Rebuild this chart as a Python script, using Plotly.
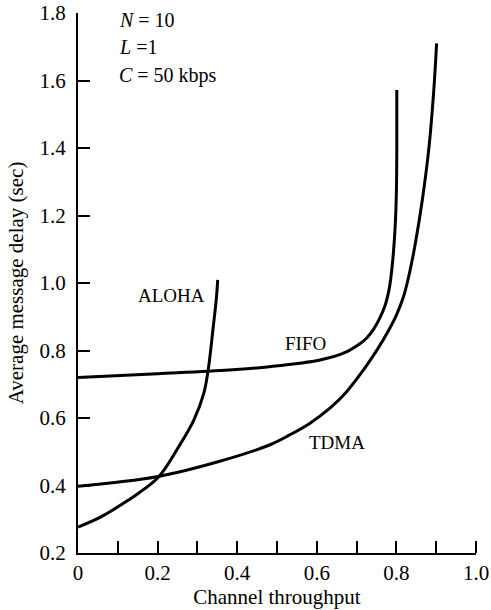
import plotly.graph_objects as go

# Data
aloha_x = [0, 0.059, 0.127, 0.152, 0.203, 0.253, 0.291, 0.316, 0.327, 0.339, 0.348, 0.351]
aloha_y = [0.277, 0.308, 0.357, 0.377, 0.426, 0.515, 0.594, 0.673, 0.742, 0.861, 0.959, 1.009]

fifo_x = [0, 0.2, 0.38, 0.481, 0.608, 0.667, 0.709, 0.726, 0.742, 0.757, 0.772, 0.783, 0.791, 0.797, 0.800, 0.801, 0.801]
fifo_y = [0.720, 0.731, 0.742, 0.752, 0.772, 0.792, 0.821, 0.838, 0.862, 0.893, 0.935, 0.990, 1.070, 1.170, 1.27, 1.40, 1.572]

tdma_x = [0, 0.198, 0.354, 0.481, 0.532, 0.582, 0.633, 0.675, 0.717, 0.751, 0.781, 0.800, 0.818, 0.833, 0.848, 0.865, 0.882, 0.894, 0.901]
tdma_y = [0.398, 0.426, 0.471, 0.520, 0.550, 0.584, 0.629, 0.678, 0.742, 0.801, 0.861, 0.905, 0.960, 1.030, 1.120, 1.245, 1.404, 1.572, 1.710]

x_tick_vals = [0, 0.2, 0.4, 0.6, 0.8, 1.0]
x_tick_text = ["0", "0.2", "0.4", "0.6", "0.8", "1.0"]
x_minor_vals = [0.1, 0.2, 0.3, 0.4, 0.5, 0.6, 0.7, 0.8, 0.9, 1.0]
y_tick_vals = [0.2, 0.4, 0.6, 0.8, 1.0, 1.2, 1.4, 1.6, 1.8]
y_tick_text = ["0.2", "0.4", "0.6", "0.8", "1.0", "1.2", "1.4", "1.6", "1.8"]

FONT = "Liberation Serif, Times New Roman, serif"

fig = go.Figure()
for name, xs, ys in [("ALOHA", aloha_x, aloha_y), ("FIFO", fifo_x, fifo_y), ("TDMA", tdma_x, tdma_y)]:
    fig.add_trace(go.Scatter(x=xs, y=ys, mode="lines", name=name,
                             line=dict(color="black", width=3, shape="spline", smoothing=1.0),
                             showlegend=False, hoverinfo="skip"))

annots = [
    dict(x=0.098, y=1.779, text="<i>N</i> = 10", xanchor="left", size=20),
    dict(x=0.098, y=1.699, text="<i>L</i> =1", xanchor="left", size=20),
    dict(x=0.098, y=1.616, text="<i>C</i> = 50 kbps", xanchor="left", size=20),
    dict(x=0.235, y=0.964, text="ALOHA", xanchor="center", size=19),
    dict(x=0.572, y=0.822, text="FIFO", xanchor="center", size=19),
    dict(x=0.651, y=0.526, text="TDMA", xanchor="center", size=19),
]
for a in annots:
    size = a.pop("size")
    fig.add_annotation(xref="x", yref="y", showarrow=False, yanchor="middle",
                       font=dict(family=FONT, size=size, color="black"), **a)

fig.update_layout(
    width=491, height=610,
    margin=dict(l=78, r=15, t=13, b=57),
    paper_bgcolor="white", plot_bgcolor="white",
    font=dict(family=FONT, color="black", size=20),
    xaxis=dict(
        range=[0, 1.0], showgrid=False, zeroline=False, automargin=False,
        showline=True, linecolor="black", linewidth=2,
        tickmode="array", tickvals=x_tick_vals, ticktext=x_tick_text,
        ticks="", tickfont=dict(family=FONT, size=21, color="black"),
        minor=dict(tickmode="array", tickvals=x_minor_vals, ticks="inside", ticklen=12,
                   tickwidth=1.5, tickcolor="black", showgrid=False),
        title=dict(text="Channel throughput", font=dict(family=FONT, size=21, color="black"), standoff=2),
    ),
    yaxis=dict(
        range=[0.2, 1.8], showgrid=False, zeroline=False, automargin=False,
        showline=True, linecolor="black", linewidth=2,
        tickmode="array", tickvals=y_tick_vals, ticktext=y_tick_text,
        ticks="inside", ticklen=12, tickwidth=1.5, tickcolor="black",
        ticklabelstandoff=6,
        tickfont=dict(family=FONT, size=21, color="black"),
        title=dict(text="Average message delay (sec)", font=dict(family=FONT, size=21, color="black"), standoff=10),
    ),
)

fig.write_html("out.html", config={"displayModeBar": False},
               post_script="document.body.style.margin='0';document.body.style.overflow='hidden';")
